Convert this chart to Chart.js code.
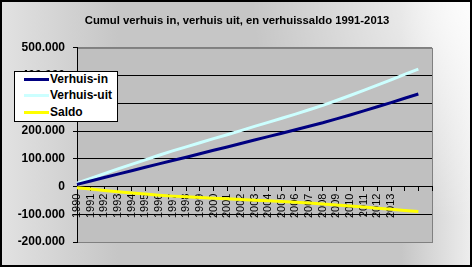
<!DOCTYPE html>
<html>
<head>
<meta charset="utf-8">
<script src="https://cdn.jsdelivr.net/npm/chart.js@4"></script>
<style>
    html, body { margin: 0; padding: 0; }
    #wrap { position: relative; width: 472px; height: 267px; }
    #legenda {
        position: absolute; left: 14px; top: 71px; width: 104px; height: 51px;
        box-sizing: border-box; background: #fff; border: 1px solid #000;
        font: bold 12px "Liberation Sans", Arial, sans-serif; color: #000;
    }
    #legenda div { position: absolute; left: 0; height: 14px; line-height: 14px; white-space: nowrap; }
    #legenda span.lijn { position: absolute; left: 9px; top: 6px; width: 25px; height: 3px; }
    #legenda span.tekst { position: absolute; left: 35px; top: 0; }
</style>
</head>
<body>
<div id="wrap">
    <canvas id="grafiek" width="472" height="267"></canvas>
    <div id="legenda"></div>
</div>
<script>
    // Data
    var jaren = ["1990", "1991", "1992", "1993", "1994", "1995", "1996", "1997", "1998", "1999",
        "2000", "2001", "2002", "2003", "2004", "2005", "2006", "2007", "2008", "2009",
        "2010", "2011", "2012", "2013", "", "", ""];
    var verhuisIn = [8000, 20000, 32500, 45000, 57000, 69500, 82000, 94000, 106000, 118500,
        131000, 143000, 155500, 168000, 180000, 192500, 205000, 217500, 230000, 244000,
        258000, 273000, 288000, 303000, 318500, 334000];
    var verhuisUit = [12000, 29000, 46500, 64000, 80000, 96500, 113000, 128500, 143000, 158000,
        173000, 187000, 202000, 217000, 231500, 246500, 261500, 277000, 293000, 310500,
        328500, 347000, 366000, 385000, 404500, 424000];
    var saldo = [-4000, -9000, -14000, -19000, -23000, -27000, -31000, -34500, -37000, -39500,
        -42000, -44000, -46500, -49000, -51500, -54000, -56500, -59500, -63000, -66500,
        -70500, -74000, -78000, -82000, -86000, -90000];

    var lettertype = '"Liberation Sans", Arial, sans-serif';

    function puntNotatie(v) {
        var s = String(Math.abs(v)).replace(/\B(?=(\d{3})+(?!\d))/g, '.');
        return v < 0 ? '-' + s : s;
    }

    // Achtergrond, kader en plotgebied
    var achtergrond = {
        id: 'achtergrond',
        beforeDraw: function (chart) {
            var ctx = chart.ctx, a = chart.chartArea;
            ctx.save();
            var g = ctx.createLinearGradient(0, 0, 472, 0);
            g.addColorStop(0, '#e2e2e2');
            g.addColorStop(0.25, '#c6c6c6');
            g.addColorStop(0.85, '#c6c6c6');
            g.addColorStop(1, '#eeeeee');
            ctx.fillStyle = g;
            ctx.fillRect(0, 0, 472, 267);
            var r = ctx.createRadialGradient(472, 0, 0, 472, 0, 220);
            r.addColorStop(0, 'rgba(255,255,255,0.9)');
            r.addColorStop(1, 'rgba(255,255,255,0)');
            ctx.fillStyle = r;
            ctx.fillRect(0, 0, 472, 267);
            ctx.strokeStyle = '#000';
            ctx.lineWidth = 2;
            ctx.strokeRect(1, 1, 470, 265);
            ctx.fillStyle = '#c0c0c0';
            ctx.fillRect(a.left, a.top, a.right - a.left, a.bottom - a.top);
            ctx.strokeStyle = '#808080';
            ctx.lineWidth = 1;
            ctx.strokeRect(a.left + 0.5, a.top + 0.5, a.right - a.left, a.bottom - a.top);
            ctx.restore();
        }
    };

    var ctx = document.getElementById("grafiek").getContext("2d");
    var grafiek = new Chart(ctx, {
        type: "line",
        data: {
            labels: jaren,
            datasets: [{
                label: "Verhuis-in",
                data: verhuisIn,
                borderColor: "#000080",
                backgroundColor: "#000080"
            }, {
                label: "Verhuis-uit",
                data: verhuisUit,
                borderColor: "#ccffff",
                backgroundColor: "#ccffff"
            }, {
                label: "Saldo",
                data: saldo,
                borderColor: "#ffff00",
                backgroundColor: "#ffff00"
            }]
        },
        options: {
            responsive: false,
            animation: false,
            layout: { padding: { left: 2, right: 0, top: 0, bottom: 25 } },
            elements: {
                line: { borderWidth: 3, tension: 0 },
                point: { radius: 0 }
            },
            plugins: {
                legend: { display: false },
                tooltip: { enabled: false },
                title: {
                    display: true,
                    text: "Cumul verhuis in, verhuis uit, en verhuissaldo 1991-2013",
                    color: "#000",
                    font: { family: lettertype, size: 11.3, weight: "bold" },
                    padding: { top: 14, bottom: 20.4 }
                }
            },
            scales: {
                x: {
                    type: "category",
                    offset: false,
                    position: { y: 0 },
                    grid: { drawOnChartArea: false, drawTicks: true, tickLength: 4, tickColor: "#000", offset: false },
                    border: { color: "#000", width: 1 },
                    ticks: {
                        autoSkip: false,
                        maxRotation: 90,
                        minRotation: 90,
                        padding: 3,
                        color: "#000",
                        font: { family: lettertype, size: 11 }
                    }
                },
                y: {
                    min: -200000,
                    max: 500000,
                    afterFit: function (scale) { scale.width = 75; },
                    grid: {
                        color: function (c) {
                            return (c.tick && (c.tick.value === 500000 || c.tick.value === -200000)) ? "#808080" : "#000";
                        },
                        tickLength: 4,
                        tickColor: "#000"
                    },
                    border: { color: "#000", width: 1 },
                    ticks: {
                        stepSize: 100000,
                        padding: 8,
                        color: "#000",
                        font: { family: lettertype, size: 12, weight: "bold" },
                        callback: function (v) { return puntNotatie(v); }
                    }
                },
                // lege as rechts, houdt ruimte vrij naast het plotgebied
                rechts: {
                    position: "right",
                    min: -200000,
                    max: 500000,
                    afterFit: function (scale) { scale.width = 40; },
                    grid: { display: false },
                    border: { display: false },
                    ticks: { display: false }
                }
            }
        },
        plugins: [achtergrond]
    });

    // Legenda
    var legenda = document.getElementById("legenda");
    var rijen = [8.3, 24, 40.7];
    grafiek.data.datasets.forEach(function (ds, i) {
        var rij = document.createElement("div");
        rij.style.top = (rijen[i] - 1 - 7) + "px";
        rij.innerHTML = '<span class="lijn" style="background:' + ds.borderColor + '"></span>' +
            '<span class="tekst">' + ds.label + '</span>';
        legenda.appendChild(rij);
    });
</script>
</body>
</html>
